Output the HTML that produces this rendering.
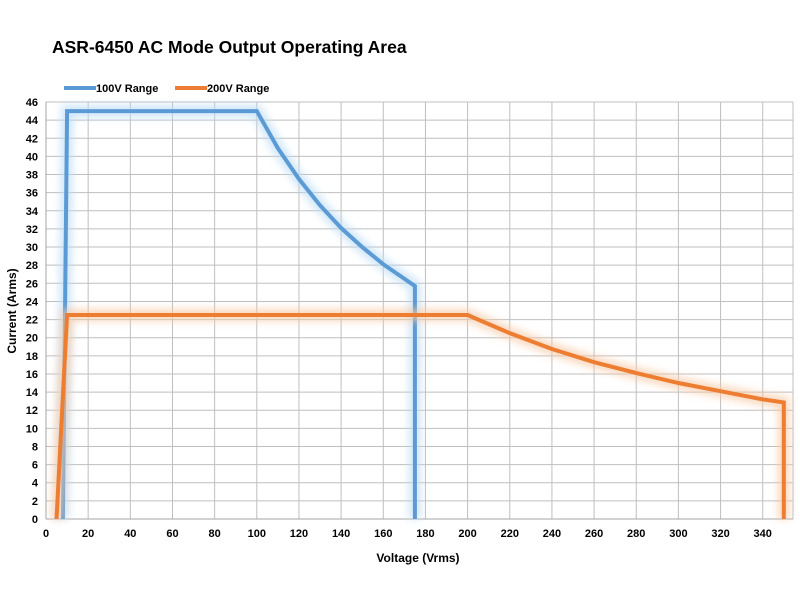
<!DOCTYPE html>
<html><head><meta charset="utf-8"><style>
body{margin:0;background:#fff;width:800px;height:600px;overflow:hidden;font-family:"Liberation Sans",sans-serif}
text{font-family:"Liberation Sans",sans-serif}
</style></head><body>
<svg id="chart" width="800" height="600">
<defs><filter id="glow" x="-20%" y="-20%" width="140%" height="140%"><feGaussianBlur stdDeviation="4"/></filter></defs>
<text x="52" y="53" font-size="17.5" font-weight="bold" fill="#000">ASR-6450 AC Mode Output Operating Area</text>
<g>
<line x1="64" y1="88" x2="96" y2="88" stroke="#5b9bd5" stroke-width="4"/>
<text x="96" y="92" font-size="11" font-weight="bold">100V Range</text>
<line x1="175" y1="88" x2="207" y2="88" stroke="#ed7d31" stroke-width="4"/>
<text x="207" y="92" font-size="11" font-weight="bold">200V Range</text>
</g>
<g id="grid"></g><g id="series"></g><g id="labels"></g>
<text x="418" y="562" font-size="12" font-weight="bold" text-anchor="middle">Voltage (Vrms)</text>
<text transform="translate(16,311) rotate(-90)" font-size="12" font-weight="bold" text-anchor="middle">Current (Arms)</text>
</svg>
<script>
const xTicks=[0,20,40,60,80,100,120,140,160,180,200,220,240,260,280,300,320,340];
const yTicks=[0,2,4,6,8,10,12,14,16,18,20,22,24,26,28,30,32,34,36,38,40,42,44,46];
const v100=[8,10,100,110,120,130,140,150,160,170,175,175];
const i100=[0,45,45,40.9,37.5,34.6,32.1,30,28.1,26.5,25.7,0];
const v200=[5,10,200,220,240,260,280,300,320,340,350,350];
const i200=[0,22.5,22.5,20.5,18.75,17.3,16.1,15,14.1,13.2,12.86,0];
const X0=46,XS=2.108,Y0=519,YS=9.065,XR=793;
const sx=v=>X0+v*XS, sy=v=>Y0-v*YS;
const NS="http://www.w3.org/2000/svg";
const g=document.getElementById('grid'),s=document.getElementById('series'),lb=document.getElementById('labels');
function mk(tag,at,par){const e=document.createElementNS(NS,tag);for(const k in at)e.setAttribute(k,at[k]);par.appendChild(e);return e;}
yTicks.forEach(t=>{
 const l=mk('line',{x1:X0,x2:XR,y1:sy(t),y2:sy(t),stroke:'#bfbfbf','stroke-width':1},g);
 
 
 const tx=mk('text',{x:X0-8,y:sy(t)+4,'font-size':11,'font-weight':'bold','text-anchor':'end'},lb);
 tx.textContent=t;
 
 
});
xTicks.forEach(t=>{
 const l=mk('line',{x1:sx(t),x2:sx(t),y1:sy(46),y2:Y0,stroke:'#bfbfbf','stroke-width':1},g);
 
 
 const tx=mk('text',{x:sx(t),y:Y0+18,'font-size':11,'font-weight':'bold','text-anchor':'middle'},lb);
 tx.textContent=t;
 
 
});
mk('line',{x1:XR,x2:XR,y1:sy(46),y2:Y0,stroke:'#bfbfbf'},g);
mk('line',{x1:X0,x2:XR,y1:Y0,y2:Y0,stroke:'#a6a6a6'},g);
mk('line',{x1:X0,x2:X0,y1:sy(46),y2:Y0,stroke:'#a6a6a6'},g);
function series(vs,is,col,glow,name){
 const pts=vs.map((v,k)=>sx(v)+','+sy(is[k])).join(' ');
 const gl=mk('polyline',{points:pts,fill:'none',stroke:glow,'stroke-width':12,filter:'url(#glow)',opacity:0.7},s);
 
 
 const p=mk('polyline',{points:pts,fill:'none',stroke:col,'stroke-width':4,'stroke-linejoin':'miter'},s);
 
 
}
series(v100,i100,'#5b9bd5','#bcdcf5','series-100v-range');
series(v200,i200,'#ed7d31','#f8c9a5','series-200v-range');
</script>
</body></html>
